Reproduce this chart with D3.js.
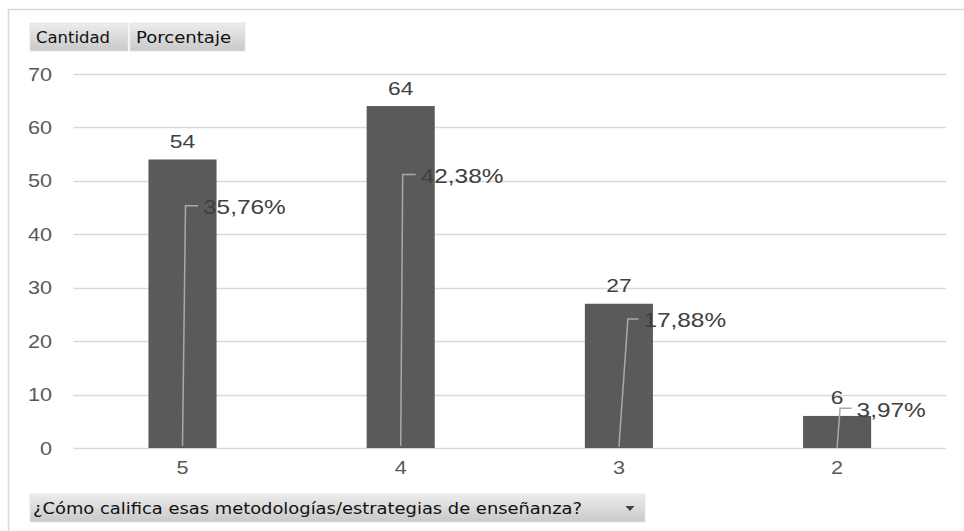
<!DOCTYPE html>
<html>
<head>
<meta charset="utf-8">
<script src="https://cdn.jsdelivr.net/npm/d3@7/dist/d3.min.js"></script>
<style>
  html, body { margin: 0; padding: 0; background: #ffffff; }
  svg { display: block; }
</style>
</head>
<body>
<svg id="chart" width="964" height="531"></svg>
<script>
// Pivot chart: rating of teaching methodologies (count and share)
const categories = ["5", "4", "3", "2"];
const cantidad = [54, 64, 27, 6];
const porcentaje = [35.76, 42.38, 17.88, 3.97];
const yTicks = [0, 10, 20, 30, 40, 50, 60, 70];
const fieldButtons = ["Cantidad", "Porcentaje"];
const axisField = "¿Cómo califica esas metodologías/estrategias de enseñanza?";

// Manually placed percentage labels (axis units) and their leader offsets (px)
const pctLabelAt = [45.35, 51.2, 24.15, 7.45];
const leaderTopDx = [3, 2, 9, 3];
const leaderTickDx = [15.5, 15, 19.5, 14.5];

const W = 964, H = 531;
const plot = { left: 73.4, right: 946.2, top: 74, bottom: 448 };

const svg = d3.select("#chart");

const defs = svg.append("defs");
const grad = defs.append("linearGradient")
  .attr("id", "btnGrad").attr("x1", 0).attr("y1", 0).attr("x2", 0).attr("y2", 1);
grad.append("stop").attr("offset", "0%").attr("stop-color", "#ececec");
grad.append("stop").attr("offset", "100%").attr("stop-color", "#c9c9c9");

// chart frame (left and top edges)
svg.append("path")
  .attr("d", `M8.5,${H} L8.5,9.5 L${W},9.5`)
  .attr("fill", "none").attr("stroke", "#d9d9d9").attr("stroke-width", 1.5);

const x = d3.scaleBand()
  .domain(categories)
  .range([plot.left, plot.right])
  .paddingInner(0.688)
  .paddingOuter(0.344);

const y = d3.scaleLinear().domain([0, 70]).range([plot.bottom, plot.top]);

// helper: horizontally widened text
function wideText(g, tx, ty, str, opts) {
  return g.append("text")
    .attr("transform", `translate(${tx},${ty}) scale(${opts.sx || 1.2},1)`)
    .attr("text-anchor", opts.anchor || "start")
    .attr("font-family", "'Liberation Sans', Arial, sans-serif")
    .attr("font-size", opts.size)
    .attr("fill", opts.fill)
    .text(str);
}

// gridlines
svg.append("g").selectAll("line").data(yTicks).join("line")
  .attr("x1", plot.left).attr("x2", plot.right)
  .attr("y1", d => Math.round(y(d)) + 0.5).attr("y2", d => Math.round(y(d)) + 0.5)
  .attr("stroke", "#d9d9d9").attr("stroke-width", 1.3);

// y axis labels
const yAxisG = svg.append("g");
yTicks.forEach(t => wideText(yAxisG, 52, y(t) + 6.5, String(t),
  { anchor: "end", size: 18, fill: "#595959" }));

// bars
svg.append("g").selectAll("rect").data(cantidad).join("rect")
  .attr("x", (d, i) => x(categories[i]))
  .attr("width", x.bandwidth())
  .attr("y", d => y(d))
  .attr("height", d => y(0) - y(d))
  .attr("fill", "#5a5a5a");

// count labels
const countG = svg.append("g");
cantidad.forEach((v, i) => {
  const cx = x(categories[i]) + x.bandwidth() / 2;
  wideText(countG, cx, y(v) - 11.5, String(v), { anchor: "middle", size: 19, fill: "#404040" });
});

// percentage series: leader lines from the (near-zero) percentage value to its label
const fmtPct = v => v.toFixed(2).replace(".", ",") + "%";
const pctG = svg.append("g");
porcentaje.forEach((p, i) => {
  const cx = x(categories[i]) + x.bandwidth() / 2;
  const ly = y(pctLabelAt[i]);
  pctG.append("path")
    .attr("d", `M${cx},${y(p / 100)} L${cx + leaderTopDx[i]},${ly} L${cx + leaderTickDx[i]},${ly}`)
    .attr("fill", "none").attr("stroke", "#a9a9a9").attr("stroke-width", 1.5);
  wideText(pctG, cx + leaderTickDx[i] + 5, ly + 8.5, fmtPct(p),
    { anchor: "start", size: 20, sx: 1.22, fill: "#404040" });
});

// category labels
const xAxisG = svg.append("g");
categories.forEach(c => wideText(xAxisG, x(c) + x.bandwidth() / 2, 474, c,
  { anchor: "middle", size: 18, fill: "#595959" }));

// field buttons
function button(bx, by, bw, bh, label, textW) {
  const g = svg.append("g");
  g.append("rect").attr("x", bx).attr("y", by).attr("width", bw).attr("height", bh)
    .attr("fill", "url(#btnGrad)").attr("stroke", "#e4e4e4").attr("stroke-width", 0.8);
  g.append("text")
    .attr("x", bx + 6).attr("y", by + bh / 2 + 6)
    .attr("font-family", "'DejaVu Sans', Tahoma, sans-serif")
    .attr("font-size", 16).attr("fill", "#111111")
    .attr("textLength", textW).attr("lengthAdjust", "spacingAndGlyphs")
    .text(label);
  return g;
}
button(30, 23, 98, 28, fieldButtons[0], 74);
button(130, 23, 115, 28, fieldButtons[1], 95);
const axisBtn = button(30, 494, 615, 28, axisField, 549);
axisBtn.select("text").attr("x", 33);
axisBtn.append("path")
  .attr("d", "M625.5,506 L634.5,506 L630,511 Z")
  .attr("fill", "#404040");
</script>
</body>
</html>
